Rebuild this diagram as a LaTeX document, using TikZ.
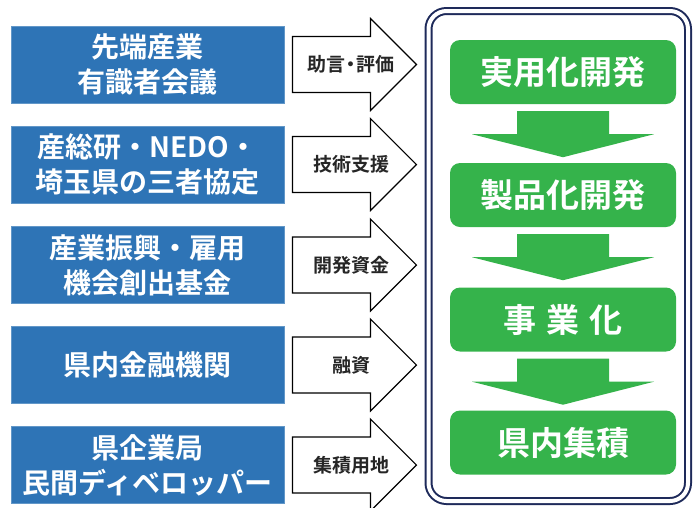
\documentclass[tikz,border=0pt]{standalone}
\usepackage{fontspec}
\usetikzlibrary{calc}
\newfontfamily\jp{Noto Sans CJK JP}[BoldFont={Noto Sans CJK JP Bold}]
\definecolor{boxblue}{HTML}{2E74B6}
\definecolor{boxgreen}{HTML}{35B34B}
\definecolor{navy}{HTML}{1E2A5A}
\begin{document}
\begin{tikzpicture}[x=1pt,y=-1pt,
  bluebox/.style={fill=boxblue, draw=boxblue!75!white, line width=0.8pt,
    minimum width=273pt, minimum height=77pt, inner sep=0pt, text=white,
    font=\jp\bfseries\fontsize{28}{35}\selectfont, align=center},
  greenbox/.style={fill=boxgreen, rounded corners=10pt, minimum width=226pt,
    minimum height=64pt, inner sep=0pt, text=white,
    font=\jp\bfseries\fontsize{33}{40}\selectfont},
  frame/.style={draw=navy, double=white, double distance=4pt, line width=2pt,
    rounded corners=18pt, minimum width=259.5pt, minimum height=490pt, inner sep=0pt},
  fatarrow/.style={draw=black, fill=white, line width=1.2pt, line join=miter},
  downarrow/.style={fill=boxgreen},
  lbl/.style={font=\jp\bfseries\fontsize{19}{22}\selectfont, inner sep=0pt, text=black!85}
]
\useasboundingbox (0,0) rectangle (695,507);

% frame
\node[frame] (fr) at (558.25,256) {};

% blue source boxes
\node[bluebox] (b1) at (147.5,64.5) {先端産業\\有識者会議};
\node[bluebox] (b2) at (147.5,164.5) {産総研・NEDO・\\埼玉県の三者協定};
\node[bluebox] (b3) at (147.5,265) {産業振興・雇用\\機会創出基金};
\node[bluebox] (b4) at (147.5,365) {県内金融機関};
\node[bluebox] (b5) at (147.5,465) {県企業局\\民間ディベロッパー};

% fat arrows with labels
\foreach \i/\t in {1/{助言{\kern-4pt}・{\kern-4pt}評価}, 2/技術支援, 3/開発資金, 4/融資, 5/集積用地}{
  \path (b\i.east) ++(8,0) coordinate (t\i);
  \draw[fatarrow] (t\i) ++(0,-28) -- ++(78,0) -- ++(0,-18) -- ++(46,46)
     -- ++(-46,46) -- ++(0,-18) -- ++(-78,0) -- cycle;
  \node[lbl] (l\i) at ($(t\i)+(59,0)$) {\t};
}

% green stages
\node[greenbox] (g1) at (563,72) {実用化開発};
\node[greenbox] (g2) at (563,195) {製品化開発};
\node[greenbox] (g3) at (563,319.5) {事\kern10pt 業\kern10pt 化};
\node[greenbox] (g4) at (563,442.5) {県内集積};

% green down arrows
\foreach \a/\b in {1/2, 2/3, 3/4}{
  \fill[downarrow] (g\a.south) ++(-46,7) -- ++(92,0) -- ++(0,23) -- ++(45,0)
     -- ++(-91,23) -- ++(-91,-23) -- ++(45,0) -- cycle;
}
\end{tikzpicture}
\end{document}
